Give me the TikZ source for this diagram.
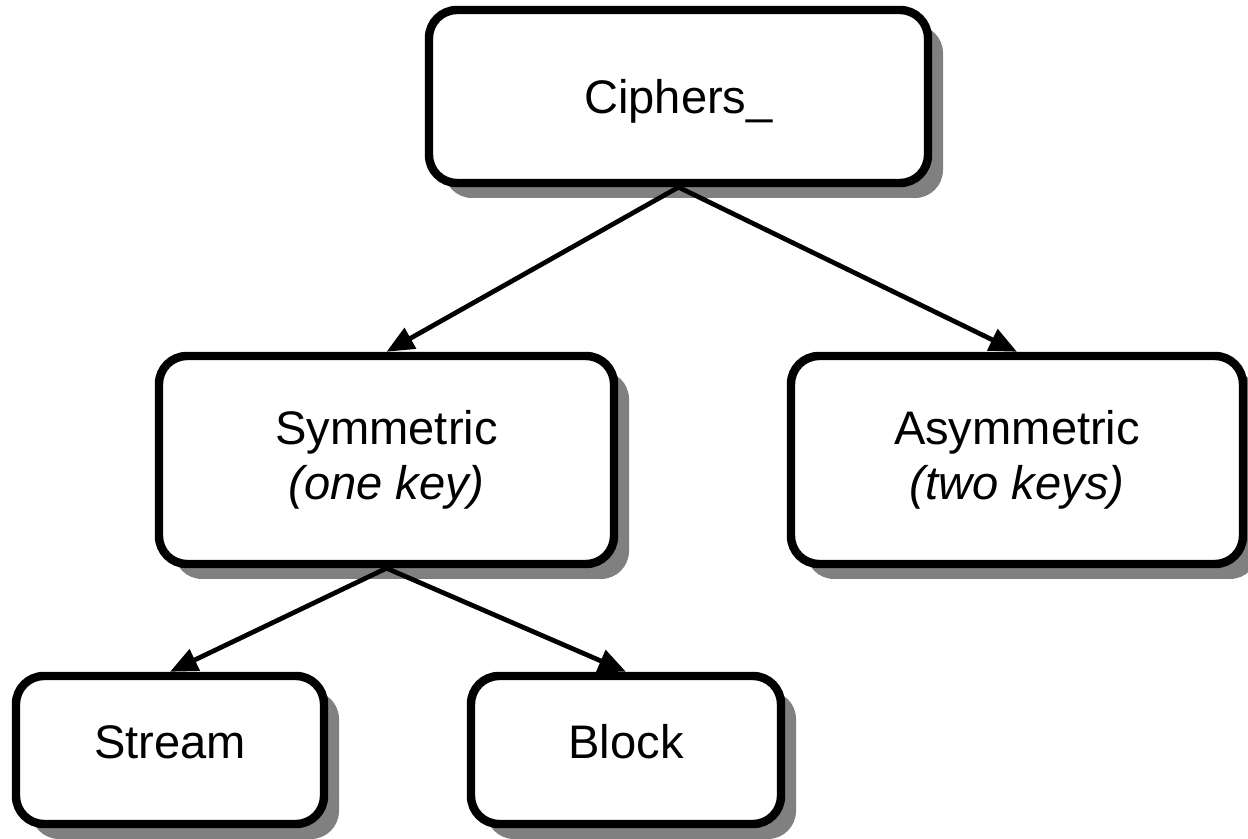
\documentclass[tikz,border=0pt]{standalone}
\usepackage{fontspec}
\setmainfont{Liberation Sans}
\usetikzlibrary{arrows.meta,shadows}

\begin{document}
\begin{tikzpicture}
  \tikzset{
    box/.style={draw, line width=4.8pt, rounded corners=0.56cm, fill=white,
      drop shadow={shadow xshift=0.3cm, shadow yshift=-0.3cm, fill=black!50, opacity=1},
      font=\fontsize{26.8}{31.2}\selectfont, align=center, inner sep=0pt},
    link/.style={line width=2.7pt, -{Triangle[length=0.55cm,width=0.46cm]}},
  }
  \useasboundingbox (0,0) rectangle (24.96,-16.78);

  % tree of cipher families
  \node[box, minimum width=9.98cm, minimum height=3.46cm, text height=0.673cm, text depth=0cm]
    (ciphers) at (13.57,-1.93) {Ciphers\_};
  \node[box, minimum width=9.10cm, minimum height=4.16cm]
    (sym) at (7.73,-9.20) {Symmetric\\\textit{(one key)}};
  \node[box, minimum width=9.04cm, minimum height=4.16cm]
    (asym) at (20.34,-9.20) {Asymmetric\\\textit{(two keys)}};
  \node[box, minimum width=6.16cm, minimum height=2.96cm, text height=0.673cm, text depth=0.35cm]
    (stream) at (3.40,-15.00) {Stream};
  \node[box, minimum width=6.20cm, minimum height=2.96cm, text height=0.673cm, text depth=0.35cm]
    (block) at (12.52,-15.00) {Block};

  \draw[link] (ciphers.south) -- (sym.north);
  \draw[link] (ciphers.south) -- (asym.north);
  \draw[link] (sym.south) -- (stream.north);
  \draw[link] (sym.south) -- (block.north);
\end{tikzpicture}
\end{document}
